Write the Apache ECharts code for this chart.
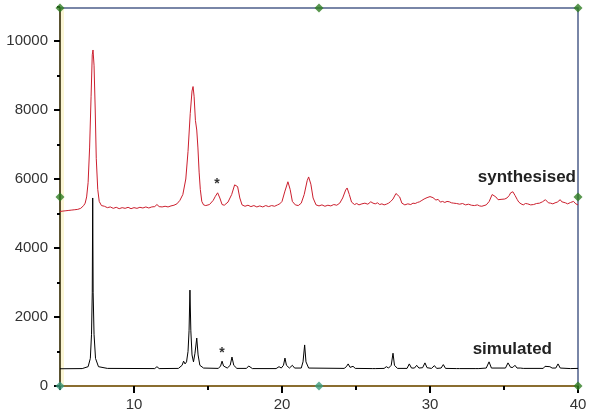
<!DOCTYPE html>
<html>
<head>
<meta charset="utf-8">
<script src="https://cdn.jsdelivr.net/npm/echarts@6/dist/echarts.min.js"></script>
<style>
  html, body { margin: 0; padding: 0; background: #fff; }
  #chart { width: 600px; height: 419px; }
</style>
</head>
<body>
<div id="chart"></div>
<script>
// tick spacing of the two axes
var xMajorStep = 10, xMinorStep = 5
var yMajorStep = 2000, yMinorStep = 1000

// simulated pattern [2theta, intensity]
var simulated = [
    [5, 500], [6.5, 505], [6.9, 560], [7.05, 800], [7.13, 1500], [7.18, 2700], [7.21, 5450],
    [7.24, 2700], [7.3, 1500], [7.4, 800], [7.6, 560], [8.2, 510], [11.4, 505], [11.55, 560],
    [11.7, 505], [13.0, 510], [13.25, 600], [13.35, 720], [13.45, 640], [13.55, 700], [13.65, 1000],
    [13.72, 1600], [13.78, 2780], [13.84, 1600], [13.92, 900], [14.02, 700], [14.12, 950],
    [14.24, 1390], [14.33, 900], [14.45, 600], [14.7, 520], [15.7, 510], [15.85, 580], [15.95, 720],
    [16.05, 580], [16.3, 520], [16.5, 600], [16.62, 840], [16.74, 600], [16.95, 510], [17.6, 510],
    [17.75, 580], [17.85, 540], [18.0, 505], [19.6, 505], [19.8, 560], [19.95, 520], [20.1, 600],
    [20.2, 810], [20.3, 600], [20.5, 520], [20.7, 600], [20.85, 520], [21.3, 520], [21.42, 700],
    [21.53, 1190], [21.62, 700], [21.8, 520], [24.2, 510], [24.35, 560], [24.47, 640], [24.6, 540],
    [24.8, 570], [24.95, 510], [26.1, 505], [26.2, 540], [26.3, 505], [26.9, 510], [27.05, 560],
    [27.2, 520], [27.38, 600], [27.5, 950], [27.6, 600], [27.8, 510], [28.45, 510], [28.6, 640],
    [28.75, 520], [28.95, 520], [29.1, 600], [29.25, 520], [29.5, 530], [29.66, 670], [29.8, 530],
    [30.1, 510], [30.3, 590], [30.45, 510], [30.75, 520], [30.9, 620], [31.05, 510], [31.8, 505],
    [31.9, 560], [32.0, 505], [33.1, 505], [33.2, 560], [33.3, 505], [33.8, 520], [33.99, 700],
    [34.15, 520], [35.1, 520], [35.27, 670], [35.45, 540], [35.6, 540], [35.74, 600], [35.88, 520],
    [36.1, 520], [36.2, 570], [36.3, 510], [37.65, 510], [37.77, 570], [37.9, 530], [38.1, 560],
    [38.25, 520], [38.5, 520], [38.65, 640], [38.8, 520], [39.5, 505], [40, 510]
]

// synthesised pattern [2theta, intensity]
var synthesised = [
    [5.0, 5060], [5.1, 5100], [5.2, 5070], [5.3, 5110], [5.4, 5080], [5.5, 5120], [5.6, 5090],
    [5.7, 5130], [5.8, 5100], [5.9, 5140], [6.0, 5110], [6.1, 5150], [6.2, 5120], [6.3, 5170],
    [6.4, 5150], [6.5, 5200], [6.6, 5230], [6.7, 5300], [6.8, 5480], [6.9, 5900], [7.0, 6900],
    [7.1, 8400], [7.18, 9600], [7.23, 9740], [7.3, 9300], [7.38, 8000], [7.45, 6600], [7.55, 5700],
    [7.65, 5350], [7.8, 5230], [7.9, 5190], [8.0, 5210], [8.2, 5170], [8.4, 5190], [8.6, 5150],
    [8.8, 5180], [9.0, 5140], [9.2, 5170], [9.4, 5150], [9.6, 5180], [9.8, 5140], [10.0, 5170],
    [10.2, 5150], [10.4, 5180], [10.6, 5160], [10.8, 5190], [11.0, 5160], [11.2, 5190], [11.4, 5200],
    [11.55, 5260], [11.7, 5200], [11.9, 5190], [12.1, 5210], [12.3, 5190], [12.5, 5220], [12.7, 5240],
    [12.9, 5280], [13.1, 5380], [13.3, 5550], [13.5, 6000], [13.65, 6800], [13.8, 7900], [13.92, 8550],
    [13.99, 8680], [14.06, 8400], [14.15, 7700], [14.24, 7420], [14.32, 6900], [14.4, 6200],
    [14.48, 5700], [14.58, 5350], [14.7, 5250], [14.85, 5230], [15.1, 5260], [15.35, 5380],
    [15.5, 5500], [15.65, 5600], [15.8, 5450], [15.95, 5260], [16.1, 5240], [16.35, 5330],
    [16.6, 5550], [16.8, 5830], [16.9, 5880], [17.0, 5780], [17.15, 5450], [17.3, 5250], [17.5, 5210],
    [17.7, 5240], [17.9, 5200], [18.1, 5230], [18.3, 5190], [18.5, 5220], [18.7, 5190], [18.9, 5230],
    [19.1, 5200], [19.3, 5230], [19.5, 5210], [19.7, 5250], [19.85, 5280], [20.0, 5350], [20.2, 5650],
    [20.4, 5920], [20.55, 5700], [20.7, 5350], [20.9, 5250], [21.1, 5230], [21.3, 5300], [21.5, 5550],
    [21.7, 5950], [21.8, 6060], [21.95, 5850], [22.1, 5450], [22.3, 5250], [22.5, 5220], [22.7, 5250],
    [22.9, 5210], [23.1, 5240], [23.3, 5220], [23.5, 5260], [23.7, 5240], [23.9, 5300], [24.1, 5450],
    [24.3, 5680], [24.4, 5740], [24.55, 5550], [24.7, 5330], [24.9, 5260], [25.05, 5290], [25.2, 5250],
    [25.4, 5280], [25.6, 5300], [25.8, 5270], [26.0, 5340], [26.15, 5300], [26.3, 5280], [26.45, 5310],
    [26.6, 5260], [26.75, 5280], [26.9, 5250], [27.05, 5270], [27.2, 5300], [27.35, 5350], [27.5, 5420],
    [27.7, 5580], [27.8, 5630], [27.95, 5480], [28.1, 5300], [28.3, 5250], [28.5, 5280], [28.7, 5260],
    [28.85, 5300], [29.0, 5290], [29.15, 5320], [29.3, 5340], [29.45, 5380], [29.6, 5420], [29.8, 5460],
    [30.0, 5490], [30.1, 5440], [30.2, 5460], [30.4, 5390], [30.55, 5410], [30.7, 5330], [30.85, 5350],
    [31.0, 5320], [31.15, 5350], [31.3, 5340], [31.45, 5310], [31.6, 5300], [31.8, 5290], [32.0, 5270],
    [32.2, 5290], [32.4, 5250], [32.6, 5270], [32.8, 5240], [33.0, 5230], [33.2, 5250], [33.35, 5220],
    [33.5, 5210], [33.65, 5230], [33.8, 5250], [34.0, 5350], [34.2, 5550], [34.3, 5600], [34.45, 5480],
    [34.6, 5400], [34.7, 5370], [34.8, 5410], [34.9, 5400], [35.05, 5420], [35.2, 5450], [35.35, 5520],
    [35.45, 5600], [35.6, 5630], [35.75, 5520], [35.9, 5400], [36.0, 5330], [36.15, 5280],
    [36.3, 5250], [36.45, 5290], [36.6, 5280], [36.8, 5250], [37.0, 5260], [37.2, 5290], [37.4, 5300],
    [37.6, 5340], [37.8, 5400], [37.9, 5350], [38.0, 5310], [38.15, 5300], [38.3, 5280], [38.45, 5310],
    [38.6, 5330], [38.8, 5400], [38.9, 5340], [39.0, 5300], [39.15, 5310], [39.3, 5280], [39.5, 5320],
    [39.7, 5350], [39.85, 5280], [40, 5250]
]

// plot range
var xMin = 5, xMax = 40, yMin = 0, yMax = 10957
// selection handles of the plot frame
var handles = [[5, 0], [22.5, 0], [40, 0], [5, yMax / 2], [40, yMax / 2], [5, yMax], [22.5, yMax], [40, yMax]]

var chart = echarts.init(document.getElementById('chart'))

var labelFont = {
    fontFamily: 'Liberation Sans, Arial, sans-serif',
    fontSize: 15,
    color: '#333',
    formatter: function (v) { return String(v) }
}
var tickLine = { color: '#000', width: 2 }
var hiddenAxis = {
    type: 'value', show: false,
    splitLine: { show: false }, axisLine: { show: false },
    axisTick: { show: false }, axisLabel: { show: false }
}

/*
 * grid 0 : data + frame
 * grid 1 : x ticks, stretched left to x=0 so the ticks fall on 10,20,30,40
 * grid 2 : y ticks, stretched up to y=12000 so the ticks fall on 0,2000,...
 */
var option = {
    animation: false,
    backgroundColor: '#fff',
    grid: [
        {
            left: 60, right: 22, top: 8, bottom: 33,
            outerBoundsMode: 'none',
            show: true,
            borderColor: '#4d5f8a',
            borderWidth: 1.5,
            backgroundColor: '#fff'
        },
        { left: -14, right: 22, top: 8, bottom: 33, outerBoundsMode: 'none', show: false },
        { left: 60, right: 22, top: -28, bottom: 33, outerBoundsMode: 'none', show: false }
    ],
    xAxis: [
        {
            gridIndex: 0, type: 'value', min: xMin, max: xMax,
            splitLine: { show: false },
            axisLine: { show: true, onZero: false, lineStyle: { color: '#8a6d30', width: 2 } },
            axisTick: { show: false },
            axisLabel: { show: false }
        },
        {
            gridIndex: 1, type: 'value', min: 0, max: xMax, interval: xMajorStep,
            splitLine: { show: false },
            axisLine: { show: false },
            axisTick: { show: true, length: 7, lineStyle: tickLine },
            axisLabel: Object.assign({ margin: 11 }, labelFont)
        },
        {
            gridIndex: 1, type: 'value', min: 0, max: xMax, interval: xMinorStep, position: 'bottom',
            splitLine: { show: false },
            axisLine: { show: false },
            axisTick: { show: true, length: 4, lineStyle: tickLine },
            axisLabel: { show: false }
        },
        Object.assign({ gridIndex: 2, min: 0, max: 1 }, hiddenAxis)
    ],
    yAxis: [
        {
            gridIndex: 0, type: 'value', min: yMin, max: yMax,
            splitLine: { show: false },
            axisLine: { show: true, onZero: false, lineStyle: { color: '#5a5230', width: 2 } },
            axisTick: { show: false },
            axisLabel: { show: false }
        },
        {
            gridIndex: 2, type: 'value', min: 0, max: 12000, interval: yMajorStep,
            splitLine: { show: false },
            axisLine: { show: false },
            axisTick: { show: true, length: 6, lineStyle: tickLine },
            axisLabel: Object.assign({ margin: 12, showMaxLabel: false }, labelFont)
        },
        {
            gridIndex: 2, type: 'value', min: 0, max: 12000, interval: yMinorStep, position: 'left',
            splitLine: { show: false },
            axisLine: { show: false },
            axisTick: { show: true, length: 3, lineStyle: tickLine },
            axisLabel: { show: false }
        },
        Object.assign({ gridIndex: 1, min: 0, max: 1 }, hiddenAxis)
    ],
    graphic: [
        // pale band along the left axis
        { type: 'rect', shape: { x: 61, y: 9, width: 3, height: 376 }, style: { fill: '#fbf6d6' }, z: 0, silent: true },
        {
            type: 'text', x: 576, y: 186, z: 10,
            style: { text: 'synthesised', align: 'right', verticalAlign: 'bottom',
                font: 'bold 17px "Liberation Sans", Arial, sans-serif', fill: '#222' }
        },
        {
            type: 'text', x: 552, y: 358, z: 10,
            style: { text: 'simulated', align: 'right', verticalAlign: 'bottom',
                font: 'bold 17px "Liberation Sans", Arial, sans-serif', fill: '#222' }
        },
        {
            type: 'text', x: 217, y: 191, z: 10,
            style: { text: '*', align: 'center', verticalAlign: 'bottom',
                font: 'bold 14px "Liberation Sans", Arial, sans-serif', fill: '#333' }
        },
        {
            type: 'text', x: 222, y: 360, z: 10,
            style: { text: '*', align: 'center', verticalAlign: 'bottom',
                font: 'bold 14px "Liberation Sans", Arial, sans-serif', fill: '#333' }
        }
    ],
    series: [
        {
            name: 'simulated',
            type: 'line',
            xAxisIndex: 0, yAxisIndex: 0,
            data: simulated,
            showSymbol: false,
            lineStyle: { color: '#000', width: 1 },
            z: 3
        },
        {
            name: 'synthesised',
            type: 'line',
            xAxisIndex: 0, yAxisIndex: 0,
            data: synthesised,
            showSymbol: false,
            lineStyle: { color: '#cc1f2e', width: 1 },
            z: 3
        },
        {
            name: 'handles',
            type: 'scatter',
            xAxisIndex: 0, yAxisIndex: 0,
            data: handles,
            symbol: 'diamond',
            symbolSize: 9,
            clip: false,
            itemStyle: {
                color: function (p) {
                    return p.data[1] === 0 && p.data[0] < 40 ? '#3a9a7c' : '#2e7d22'
                }
            },
            z: 5
        }
    ]
}

chart.setOption(option)
</script>
</body>
</html>
